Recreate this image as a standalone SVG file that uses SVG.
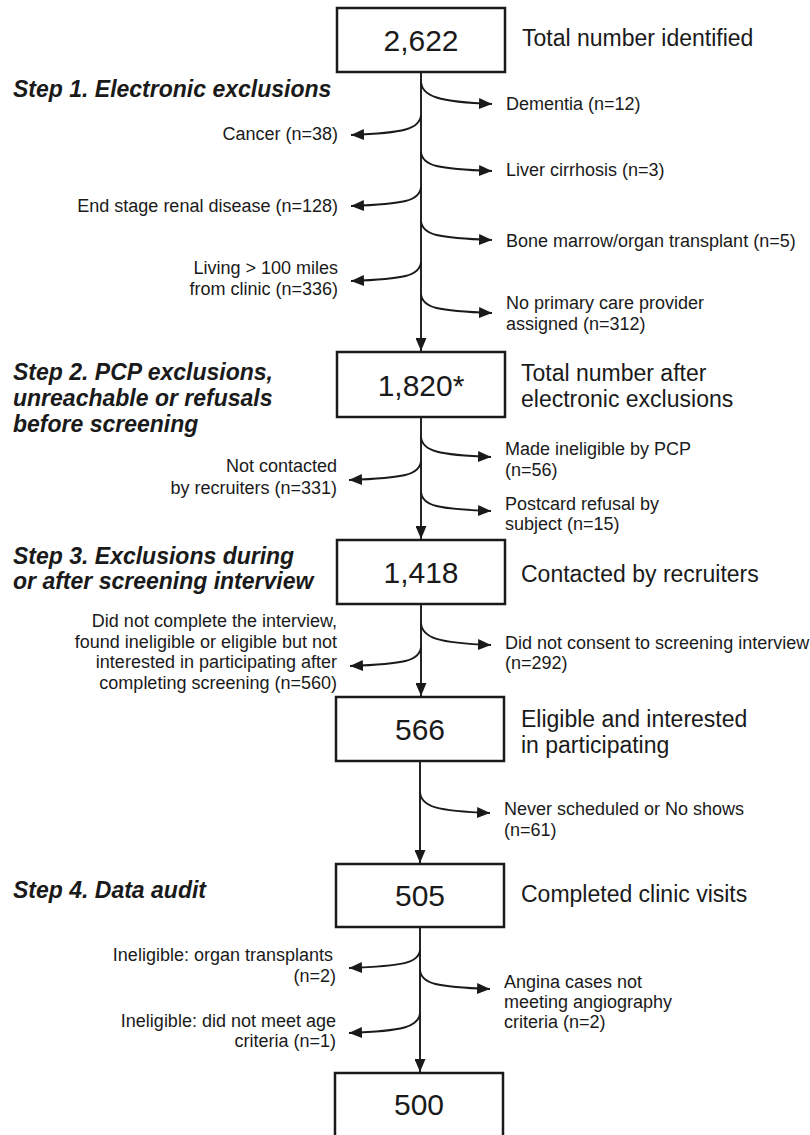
<svg xmlns="http://www.w3.org/2000/svg" width="810" height="1135" viewBox="0 0 810 1135">
<style>
text{font-family:"Liberation Sans",Arial,sans-serif;fill:#1a1a1a}
.num{font-size:30px;text-anchor:middle}
.main{font-size:23px}
.step{font-size:23px;font-weight:bold;font-style:italic}
.lab{font-size:18px}
.l{text-anchor:end}
.box{fill:#fff;stroke:#1a1a1a;stroke-width:2.5}
.c{fill:none;stroke:#1a1a1a;stroke-width:1.9}
</style>
<defs>
<marker id="ah" markerUnits="userSpaceOnUse" markerWidth="13" markerHeight="11" refX="13" refY="5.5" orient="auto">
<path d="M0,0 L13,5.5 L0,11 z" fill="#1a1a1a"/>
</marker>
</defs>
<rect width="810" height="1135" fill="#fff"/>

<g id="connectors">
<path class="c" d="M421,72 V351" marker-end="url(#ah)"/>
<path class="c" d="M421,417 V539" marker-end="url(#ah)"/>
<path class="c" d="M421,604 V696" marker-end="url(#ah)"/>
<path class="c" d="M420,761 V863" marker-end="url(#ah)"/>
<path class="c" d="M420,927 V1072" marker-end="url(#ah)"/>
<!-- step 1 -->
<path class="c" d="M421,82 C422,96 438,102 492,104" marker-end="url(#ah)"/>
<path class="c" d="M421,115 C420,129 404,133 351,135" marker-end="url(#ah)"/>
<path class="c" d="M421,152 C422,166 438,169 492,171" marker-end="url(#ah)"/>
<path class="c" d="M421,187 C420,201 404,204 351,206" marker-end="url(#ah)"/>
<path class="c" d="M421,221 C422,235 438,238 492,240" marker-end="url(#ah)"/>
<path class="c" d="M421,262 C420,276 404,279 351,281" marker-end="url(#ah)"/>
<path class="c" d="M421,294 C422,308 438,311 492,313" marker-end="url(#ah)"/>
<!-- step 2 -->
<path class="c" d="M421,437 C422,451 438,455 491,457" marker-end="url(#ah)"/>
<path class="c" d="M421,461 C420,475 404,478 349,480" marker-end="url(#ah)"/>
<path class="c" d="M421,492 C422,506 438,509 491,511" marker-end="url(#ah)"/>
<!-- step 3 -->
<path class="c" d="M421,623 C422,638 438,643 491,645" marker-end="url(#ah)"/>
<path class="c" d="M421,647 C420,661 404,664 350,666" marker-end="url(#ah)"/>
<path class="c" d="M420,792 C421,807 437,811 490,813" marker-end="url(#ah)"/>
<!-- step 4 -->
<path class="c" d="M420,950 C419,963 403,966 349,968" marker-end="url(#ah)"/>
<path class="c" d="M420,970 C421,984 437,987 490,989" marker-end="url(#ah)"/>
<path class="c" d="M420,1013 C419,1027 403,1031 349,1033" marker-end="url(#ah)"/>
</g>

<g id="n2622">
<rect class="box" x="337" y="8" width="168" height="64"/>
<text class="num" x="421" y="51">2,622</text>
<text class="main" x="522" y="46">Total number identified</text>
</g>
<g id="step1"><text class="step" x="13" y="97">Step 1. Electronic exclusions</text></g>
<g id="e-dementia"><text class="lab" x="506" y="110">Dementia (n=12)</text></g>
<g id="e-cancer"><text class="lab l" x="338" y="140">Cancer (n=38)</text></g>
<g id="e-liver"><text class="lab" x="506" y="176">Liver cirrhosis (n=3)</text></g>
<g id="e-renal"><text class="lab l" x="338" y="212">End stage renal disease (n=128)</text></g>
<g id="e-bone"><text class="lab" x="506" y="247">Bone marrow/organ transplant (n=5)</text></g>
<g id="e-living"><text class="lab l" x="338" y="274">Living &gt; 100 miles</text><text class="lab l" x="338" y="295">from clinic (n=336)</text></g>
<g id="e-pcp"><text class="lab" x="506" y="309">No primary care provider</text><text class="lab" x="506" y="330">assigned (n=312)</text></g>

<g id="n1820">
<rect class="box" x="337" y="352" width="168" height="65"/>
<text class="num" x="421" y="396">1,820*</text>
<text class="main" x="521" y="381">Total number after</text>
<text class="main" x="521" y="407">electronic exclusions</text>
</g>
<g id="step2"><text class="step" x="13" y="380">Step 2. PCP exclusions,</text><text class="step" x="13" y="406">unreachable or refusals</text><text class="step" x="13" y="432">before screening</text></g>
<g id="e-madeinel"><text class="lab" x="505" y="455">Made ineligible by PCP</text><text class="lab" x="505" y="476">(n=56)</text></g>
<g id="e-notcontacted"><text class="lab l" x="337" y="472">Not contacted</text><text class="lab l" x="337" y="494">by recruiters (n=331)</text></g>
<g id="e-postcard"><text class="lab" x="505" y="510">Postcard refusal by</text><text class="lab" x="505" y="530">subject (n=15)</text></g>

<g id="n1418">
<rect class="box" x="337" y="540" width="168" height="64"/>
<text class="num" x="421" y="583">1,418</text>
<text class="main" x="521" y="582">Contacted by recruiters</text>
</g>
<g id="step3"><text class="step" x="13" y="564">Step 3. Exclusions during</text><text class="step" x="13" y="589">or after screening interview</text></g>
<g id="e-consent"><text class="lab" x="505" y="649">Did not consent to screening interview</text><text class="lab" x="505" y="669">(n=292)</text></g>
<g id="e-complete"><text class="lab l" x="337" y="627">Did not complete the interview,</text><text class="lab l" x="337" y="648">found ineligible or eligible but not</text><text class="lab l" x="337" y="668">interested in participating after</text><text class="lab l" x="337" y="689">completing screening (n=560)</text></g>

<g id="n566">
<rect class="box" x="336" y="697" width="168" height="64"/>
<text class="num" x="420" y="740">566</text>
<text class="main" x="521" y="727">Eligible and interested</text>
<text class="main" x="521" y="753">in participating</text>
</g>
<g id="e-noshow"><text class="lab" x="504" y="815">Never scheduled or No shows</text><text class="lab" x="504" y="836">(n=61)</text></g>

<g id="n505">
<rect class="box" x="336" y="864" width="168" height="63"/>
<text class="num" x="420" y="906">505</text>
<text class="main" x="521" y="902">Completed clinic visits</text>
</g>
<g id="step4"><text class="step" x="13" y="898">Step 4. Data audit</text></g>
<g id="e-organ"><text class="lab l" x="333" y="961">Ineligible: organ transplants</text><text class="lab l" x="336" y="982">(n=2)</text></g>
<g id="e-angina"><text class="lab" x="504" y="988">Angina cases not</text><text class="lab" x="504" y="1008">meeting angiography</text><text class="lab" x="504" y="1028">criteria (n=2)</text></g>
<g id="e-age"><text class="lab l" x="336" y="1027">Ineligible: did not meet age</text><text class="lab l" x="336" y="1047">criteria (n=1)</text></g>

<g id="n500">
<rect class="box" x="335" y="1073" width="168" height="80"/>
<text class="num" x="419" y="1115">500</text>
</g>
</svg>
